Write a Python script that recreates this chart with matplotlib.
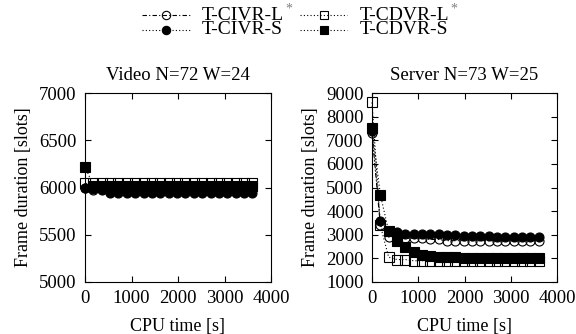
import matplotlib

matplotlib.use("Agg")
import matplotlib.pyplot as plt
from matplotlib.lines import Line2D
import numpy as np

plt.rcParams["font.family"] = ["Liberation Serif", "DejaVu Serif"]
plt.rcParams["font.size"] = 13

W, H = 576, 334

# sampling instants of the solver runs [s]
cpu_time = np.arange(0, 3601, 180)

# Video N=72 W=24
video_civr_l = [6000, 5975, 5985] + [5990] * 18
video_civr_s = [6000, 5985, 5975] + [5945] * 18
video_cdvr_l = [6050] * 21
video_cdvr_s = [6220] + [6020] * 20

# Server N=73 W=25
server_civr_l = [7300, 3400, 2900, 2950, 2850, 2850, 2850, 2800, 2800, 2750, 2750,
                 2750, 2750, 2750, 2750, 2750, 2750, 2750, 2750, 2750, 2750]
server_civr_s = [7400, 3600, 3150, 3100, 3050, 3050, 3050, 3050, 3050, 3000, 3000,
                 2950, 2950, 2950, 2950, 2900, 2900, 2900, 2900, 2900, 2900]
server_cdvr_l = [8600, 3400, 2050, 1950, 1950, 1900, 1900, 1900, 1900, 1900, 1900,
                 1900, 1900, 1900, 1900, 1900, 1900, 1900, 1900, 1900, 1900]
server_cdvr_s = [7500, 4700, 3150, 2750, 2500, 2250, 2150, 2100, 2050, 2050, 2050,
                 2000, 2000, 2000, 2000, 2000, 2000, 2000, 2000, 2000, 2000]

labels = ["T-CIVR-L", "T-CIVR-S", "T-CDVR-L", "T-CDVR-S"]
starred = [True, False, True, False]
styles = [
    dict(ls=(0, (4, 2, 1, 2)), marker="o", mfc="none"),
    dict(ls=(0, (1, 2)), marker="o", mfc="black"),
    dict(ls=(0, (1, 2)), marker="s", mfc="none"),
    dict(ls=(0, (1, 2)), marker="s", mfc="black"),
]


def draw_panel(ax, series, title, ylim, ystep):
    for values, style in zip(series, styles):
        ax.plot(cpu_time, values, color="black", lw=0.8, ms=6.5, mec="black",
                mew=0.8, clip_on=False, **style)
    ax.set_xlim(0, 4000)
    ax.set_ylim(*ylim)
    ax.set_xticks(np.arange(0, 4001, 1000))
    ax.set_yticks(np.arange(ylim[0], ylim[1] + 1, ystep))
    ax.tick_params(direction="in", top=True, right=True, length=4, width=0.8, pad=6,
                   labelsize=13.5)
    for spine in ax.spines.values():
        spine.set_linewidth(0.8)
    ax.set_title(title, fontsize=13.5, pad=9)
    ax.set_xlabel("CPU time [s]", labelpad=8)
    ax.set_ylabel("Frame duration [slots]", labelpad=5)


fig = plt.figure(figsize=(W / 100, H / 100), dpi=100)
ax1 = fig.add_axes([85 / W, 1 - 282 / H, 186 / W, 189 / H])
ax2 = fig.add_axes([372 / W, 1 - 282 / H, 185 / W, 189 / H])

draw_panel(ax1, [video_civr_l, video_civr_s, video_cdvr_l, video_cdvr_s],
           "Video N=72 W=24", (5000, 7000), 500)
draw_panel(ax2, [server_civr_l, server_civr_s, server_cdvr_l, server_cdvr_s],
           "Server N=73 W=25", (1000, 9000), 1000)

# legend laid out by hand: two tight rows, two columns
col_x = [(142, 190, 202), (300, 347, 360)]
row_y = [15, 30]
for k, (label, style) in enumerate(zip(labels, styles)):
    x0, x1, tx = col_x[k // 2]
    y = 1 - row_y[k % 2] / H
    fig.add_artist(Line2D([x0 / W, x1 / W], [y, y], transform=fig.transFigure,
                          color="black", lw=0.8, ls=style["ls"]))
    fig.add_artist(Line2D([(x0 + x1) / 2 / W], [y], transform=fig.transFigure,
                          marker=style["marker"], mfc=style["mfc"], mec="black",
                          mew=0.8, ms=6, ls="none"))
    t = fig.text(tx / W, y, label, fontsize=14, va="center", ha="left")
    if starred[k]:
        fig.canvas.draw()
        bb = t.get_window_extent(fig.canvas.get_renderer())
        fig.text((bb.x1 + 1) / W, (bb.y1 - 9) / H, "*", color="0.5", fontsize=10,
                 va="bottom", ha="left")

fig.savefig("out.png", dpi=100)
